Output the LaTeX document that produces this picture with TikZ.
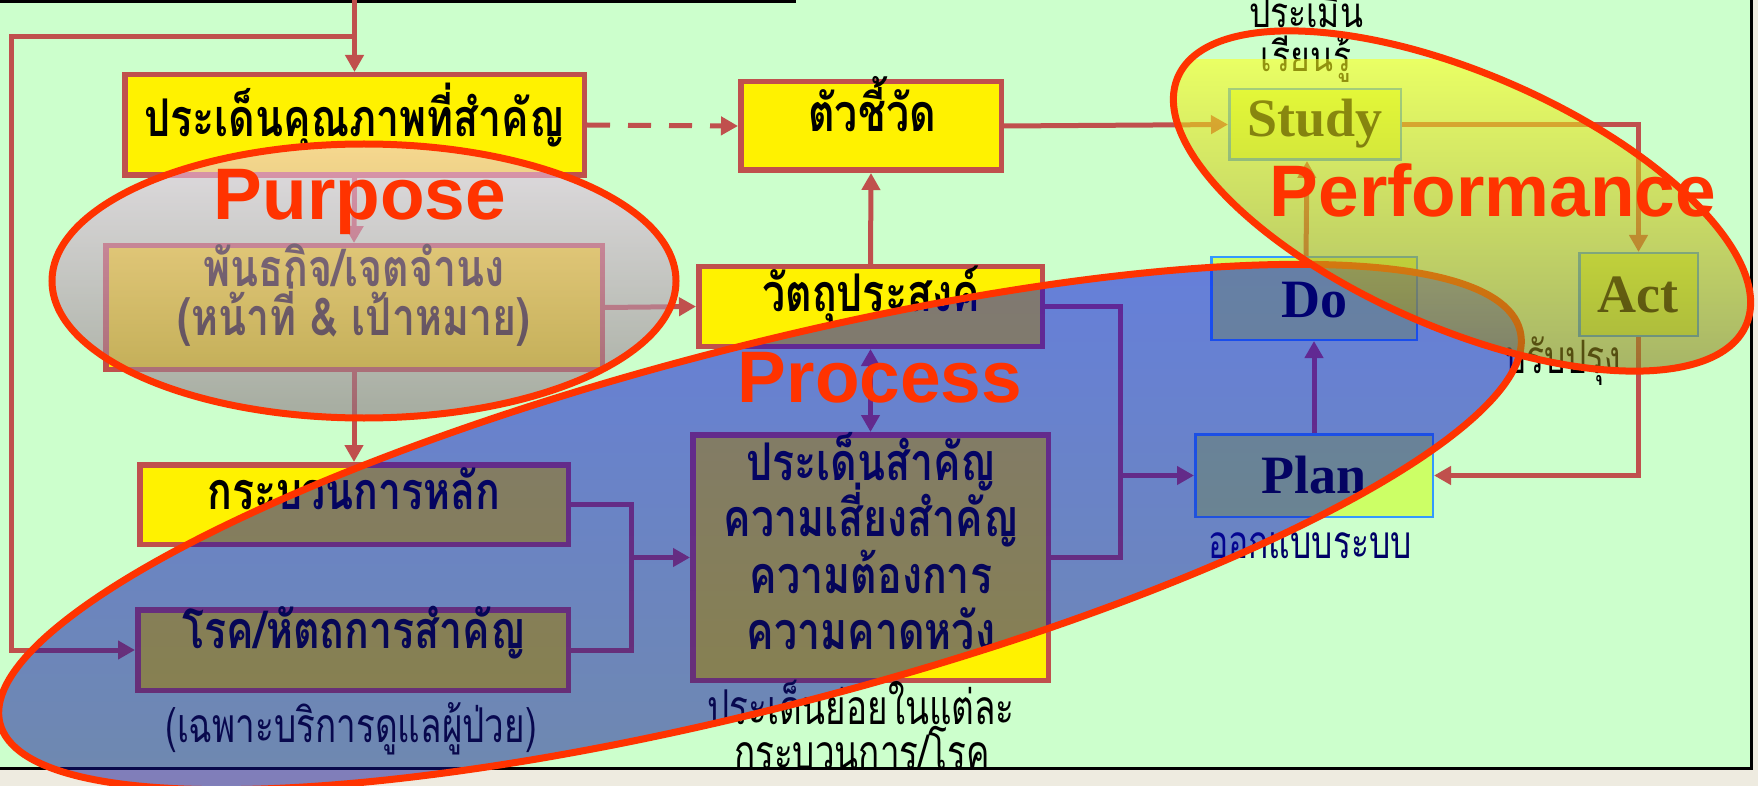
\documentclass[tikz,border=0pt]{standalone}
\usepackage{fontspec}
\setmainfont{Liberation Serif}
\newfontfamily\thaib[Script=Thai,FakeStretch=0.79]{Loma}
\newfontfamily\thail[Script=Thai,FakeStretch=0.73]{Loma}
\newfontfamily\thait[Script=Thai,FakeStretch=0.8]{Loma}
\newfontfamily\arialf{Liberation Sans}
\usetikzlibrary{arrows.meta,shadings}
\definecolor{bg}{HTML}{CCFFCC}
\definecolor{boxred}{HTML}{C0504D}
\definecolor{ovred}{HTML}{FF3300}
\definecolor{pdsaf}{HTML}{CCFF66}
\definecolor{pdsab}{HTML}{3399FF}
\definecolor{navy}{HTML}{000066}
\definecolor{beige}{HTML}{EEEBE0}
\definecolor{purT}{rgb}{0.94,0.78,0.94}
\definecolor{purB}{rgb}{0.55,0.46,0.51}
\definecolor{proT}{rgb}{0.0,0.0,0.92}
\definecolor{proB}{rgb}{0.08,0.08,0.56}
\definecolor{perT}{rgb}{1.0,1.0,0.1}
\definecolor{perB}{rgb}{0.55,0.5,0.12}
\tikzset{
  rbox/.style={draw=boxred, line width=5.5pt, fill=yellow, inner sep=0pt},
  pbox/.style={draw=pdsab, line width=2.5pt, fill=pdsaf, inner sep=0pt},
  conn/.style={draw=boxred, line width=5pt},
  arr/.style={conn, -{Triangle[length=17pt,width=18pt]}},
  thb/.style={font={\thaib\bfseries\fontsize{52}{60}\selectfont}, inner sep=0pt, anchor=base},
  thr/.style={font={\thail\fontsize{48}{56}\selectfont}, inner sep=0pt, anchor=base},
  tht/.style={font={\thait\fontsize{42}{50}\selectfont}, inner sep=0pt, anchor=base},
  lat/.style={font={\bfseries\fontsize{54}{60}\selectfont}, inner sep=0pt, anchor=base},
  big/.style={font={\arialf\bfseries\fontsize{73}{80}\selectfont}, text=ovred, inner sep=0pt, anchor=base},
  ring/.style={draw=ovred, line width=7pt},
}
\begin{document}
\begin{tikzpicture}[x=1pt,y=-1pt]
\useasboundingbox (0,0) rectangle (1758,786);
\fill[beige] (0,0) rectangle (1758,786);
\fill[bg] (0,0) rectangle (1751,768);
\draw[line width=3pt] (0,1.5) -- (796,1.5);
\draw[line width=3pt] (1751,0) -- (1751,769.5);
\draw[line width=3pt] (0,768) -- (1752.5,768);

% boxes
\node[rbox, minimum width=459.5pt, minimum height=100.5pt] (A) at (354.5,125) {};
\node[rbox, minimum width=260.5pt, minimum height=88.5pt] (B) at (871,126) {};
\node[rbox, minimum width=496.5pt, minimum height=123.5pt] (C) at (354,307.5) {};
\node[rbox, minimum width=343.5pt, minimum height=79.5pt] (G) at (870.5,306.5) {};
\node[rbox, minimum width=428.5pt, minimum height=79.5pt] (D) at (354,504.5) {};
\node[rbox, minimum width=430.5pt, minimum height=80.5pt] (E) at (353,650) {};
\node[rbox, minimum width=355.5pt, minimum height=245.5pt] (F) at (870.5,557.5) {};
\node[pbox, minimum width=171.5pt, minimum height=70.5pt] (S) at (1315,124.5) {};
\node[pbox, minimum width=118.5pt, minimum height=82.5pt] (Ac) at (1638.5,294.5) {};
\node[pbox, minimum width=205.5pt, minimum height=82.5pt] (Do) at (1314,298.5) {};
\node[pbox, minimum width=237.5pt, minimum height=82.5pt] (Pl) at (1314,475.5) {};

% connectors
\coordinate (top) at (354.5,0);
\coordinate (lp1) at (354.5,37);
\coordinate (lc) at (11,37);
\draw[arr] (top) -- (A.north);
\draw[arr] (lp1) -- (lc) |- (E.west);
\draw[arr, dash pattern=on 23pt off 18pt] (A.east) -- (B.west);
\draw[arr] (A.south) -- (C.north);
\draw[arr] (C.south) -- (D.north);
\draw[arr] (C.east) -- (G.west);
\draw[arr] (G.north) -- (B.south);
\draw[conn, {Triangle[length=17pt,width=18pt]}-{Triangle[length=17pt,width=18pt]}] (G.south) -- (F.north);
\coordinate (j3) at (631,504.5);
\coordinate (j4) at (631,650);
\draw[conn] (D.east) -- (j3) -- (j4) -- (E.east);
\draw[arr] (j3 |- F.west) -- (F.west);
\coordinate (j1) at (1120,306.5);
\coordinate (j2) at (1120,557.5);
\draw[arr] (G.east) -- (j1) |- (Pl.west);
\draw[conn] (F.east) -- (j2) -- (j2 |- Pl.west);
\draw[arr] (B.east) -- (S.west);
\draw[arr] (S.east) -| (Ac.north);
\draw[arr] ([xshift=-8pt]Do.north) -- ([xshift=-8pt]S.south);
\draw[arr] (Ac.south) |- (Pl.east);
\draw[arr] (Pl.north) -- (Do.south);

% texts
\node[thb] (tA) at (354.5,137) {ประเด็นคุณภาพที่สำคัญ};
\node[thb] (tB) at (872,132) {ตัวชี้วัด};
\node[thb] (tC1) at (354,287) {พันธกิจ/เจตจำนง};
\node[thb] (tC2) at (354,335) {(หน้าที่ \& เป้าหมาย)};
\node[thb] (tG) at (871,311) {วัตถุประสงค์};
\node[thb] (tD) at (354,509) {กระบวนการหลัก};
\node[thb] (tE) at (354,648) {โรค/หัตถการสำคัญ};
\node[thb] (tF1) at (871,480) {ประเด็นสำคัญ};
\node[thb] (tF2) at (871,536) {ความเสี่ยงสำคัญ};
\node[thb] (tF3) at (871,593) {ความต้องการ};
\node[thb] (tF4) at (871,649) {ความคาดหวัง};
\node[thr] (lE) at (351,742) {(เฉพาะบริการดูแลผู้ป่วย)};
\node[thr] (lF1) at (861,724) {ประเด็นย่อยในแต่ละ};
\node[thr] (lF2) at (862,769) {กระบวนการ/โรค};
\node[tht] (lS1) at (1306,28) {ประเมิน};
\node[tht] (lS2) at (1306,72) {เรียนรู้};
\node[thr, font={\thail\fontsize{46}{54}\selectfont}] (lA) at (1563,373) {ปรับปรุง};
\node[thr, text=navy, font={\thail\fontsize{46}{54}\selectfont}] (lP) at (1310,558) {ออกแบบระบบ};
\node[lat] (tS) at (1315,137) {Study};
\node[lat] (tDo) at (1314,317) {Do};
\node[lat] (tPl) at (1314,493) {Plan};
\node[lat] (tAc) at (1638,312) {Act};

% overlays
\shade[top color=purT, bottom color=purB, fill opacity=0.6] (364,281) ellipse [x radius=312pt, y radius=137pt];
\draw[ring] (364,281) ellipse [x radius=312pt, y radius=137pt];
\begin{scope}[rotate around={14.5:(760,527)}]
\shade[top color=proT, bottom color=proB, fill opacity=0.5] (760,527) ellipse [x radius=785pt, y radius=180pt];
\draw[ring] (760,527) ellipse [x radius=785pt, y radius=180pt];
\end{scope}
\begin{scope}
\clip[rotate around={-23.6:(1462,201)}] (1462,201) ellipse [x radius=310pt, y radius=127pt];
\shade[top color=perT, bottom color=perB, fill opacity=0.58] (1170,60) rectangle (1755,372);
\end{scope}
\draw[ring, rotate around={-23.6:(1462,201)}] (1462,201) ellipse [x radius=310pt, y radius=127pt];

\node[big] (bPu) at (360,220) {Purpose};
\node[big] (bPr) at (880,402) {Process};
\node[big] (bPe) at (1493,217) {Performance};
\end{tikzpicture}
\end{document}
